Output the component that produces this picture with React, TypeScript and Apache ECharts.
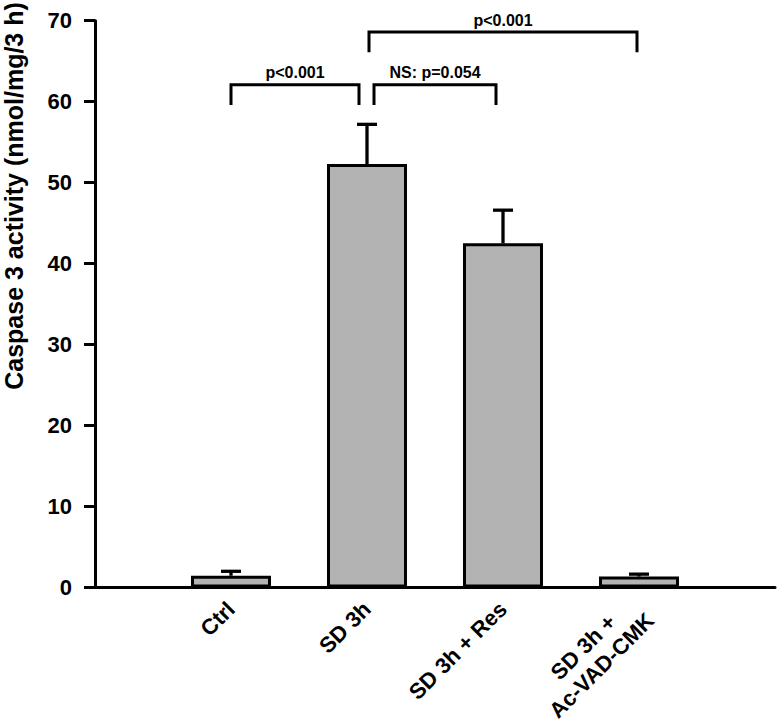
import React, { useEffect, useRef } from 'react';
import * as echarts from 'echarts';

// ---- data ----
const categories = ['', 'Ctrl', 'SD 3h', 'SD 3h + Res', 'SD 3h +\nAc-VAD-CMK', ''];
const means: (number | string)[] = ['-', 1.45, 52.3, 42.5, 1.35, '-'];
const errors: number[] = [0, 0.55, 4.9, 4.1, 0.3, 0];
const yMin = 0;
const yMax = 70;
const yInterval = 10;
const yTitle = 'Caspase 3 activity (nmol/mg/3 h)';
const bracketFrom = [1, 2, 2];
const bracketTo = [2, 3, 4];
const bracketLevel = [62.1, 62.1, 68.6];
const bracketLabels = ['p<0.001', 'NS: p=0.054', 'p<0.001'];

// ---- styling (pixel nudges for bracket ends) ----
const bracketInset = [[0, 8], [7, 7], [2, 2]];
const FONT = "'Liberation Sans', Arial, Helvetica, sans-serif";

export default function App() {
  const ref = useRef<HTMLDivElement>(null);
  useEffect(() => {
    if (!ref.current) return;
    const chart = echarts.init(ref.current, undefined, { renderer: 'svg' });

    const errData = categories
      .map((_, i) => [i, means[i], errors[i]])
      .filter((d) => typeof d[1] === 'number');
    const brData = bracketFrom.map((f, i) => [f, bracketTo[i], bracketLevel[i], i]);
    const catData = categories.map((c) =>
      c.indexOf('\n') >= 0 ? { value: c, textStyle: { padding: [6, 0, 0, 0] } } : c
    );

    const option: any = {
      animation: false,
      backgroundColor: '#ffffff',
      grid: {
        left: 95,
        right: 7,
        top: 20.7,
        bottom: 135.5,
        containLabel: false,
        outerBoundsMode: 'none',
      },
      xAxis: {
        type: 'category',
        data: catData,
        boundaryGap: false,
        axisLine: { show: true, lineStyle: { color: '#000', width: 3 } },
        axisTick: { show: false },
        splitLine: { show: false },
        axisLabel: {
          interval: 0,
          rotate: 45,
          margin: 18,
          color: '#000',
          fontFamily: FONT,
          fontWeight: 'bold',
          fontSize: 22,
          formatter: (v: string) =>
            v ? v.split('\n').map((l) => `{c|${l}}`).join('\n') : '',
          rich: {
            c: {
              align: 'center',
              color: '#000',
              fontFamily: FONT,
              fontWeight: 'bold',
              fontSize: 22,
              lineHeight: 26,
            },
          },
        },
      },
      yAxis: {
        type: 'value',
        min: yMin,
        max: yMax,
        interval: yInterval,
        axisLine: { show: true, lineStyle: { color: '#000', width: 3 } },
        axisTick: { show: true, inside: false, length: 11, lineStyle: { color: '#000', width: 3 } },
        splitLine: { show: false },
        axisLabel: {
          margin: 23,
          color: '#000',
          fontFamily: FONT,
          fontWeight: 'bold',
          fontSize: 22,
        },
      },
      graphic: [
        {
          type: 'text',
          x: 14,
          y: 196,
          rotation: Math.PI / 2,
          style: {
            text: yTitle,
            fill: '#000',
            font: `bold 25px ${FONT}`,
            textAlign: 'center',
            textVerticalAlign: 'middle',
          },
        },
      ],
      series: [
        {
          type: 'bar',
          data: means,
          barWidth: 80,
          itemStyle: { color: '#b3b3b3', borderColor: '#000', borderWidth: 3 },
          z: 2,
        },
        {
          type: 'custom',
          data: errData,
          clip: false,
          z: 3,
          renderItem: (params: any, api: any) => {
            const x = api.value(0);
            const m = api.value(1);
            const e = api.value(2);
            const base = api.coord([x, m]);
            const top = api.coord([x, m + e]);
            return {
              type: 'group',
              children: [
                {
                  type: 'line',
                  shape: { x1: base[0], y1: base[1], x2: top[0], y2: top[1] },
                  style: { stroke: '#000', lineWidth: 3.3 },
                },
                {
                  type: 'line',
                  shape: { x1: top[0] - 10, y1: top[1], x2: top[0] + 10, y2: top[1] },
                  style: { stroke: '#000', lineWidth: 3.3 },
                },
              ],
            };
          },
        },
        {
          type: 'custom',
          data: brData,
          clip: false,
          z: 4,
          renderItem: (params: any, api: any) => {
            const from = api.value(0);
            const to = api.value(1);
            const level = api.value(2);
            const idx = api.value(3);
            const p1 = api.coord([from, level]);
            const p2 = api.coord([to, level]);
            const legEnd = api.coord([from, level - 2.5]);
            const legH = legEnd[1] - p1[1];
            const x1 = p1[0] + bracketInset[idx][0];
            const x2 = p2[0] - bracketInset[idx][1];
            const y = p1[1];
            return {
              type: 'group',
              children: [
                {
                  type: 'polyline',
                  shape: { points: [[x1, y + legH], [x1, y], [x2, y], [x2, y + legH]] },
                  style: { stroke: '#000', lineWidth: 3, fill: 'none' },
                },
                {
                  type: 'text',
                  x: (x1 + x2) / 2,
                  y: y - 4,
                  style: {
                    text: bracketLabels[idx],
                    fill: '#000',
                    font: `bold 16px ${FONT}`,
                    textAlign: 'center',
                    textVerticalAlign: 'bottom',
                  },
                },
              ],
            };
          },
        },
      ],
    };
    chart.setOption(option);
    return () => chart.dispose();
  }, []);
  return (
    <div
      ref={ref}
      style={{ position: 'absolute', left: 0, top: 0, width: 782, height: 723, background: '#fff' }}
    />
  );
}
